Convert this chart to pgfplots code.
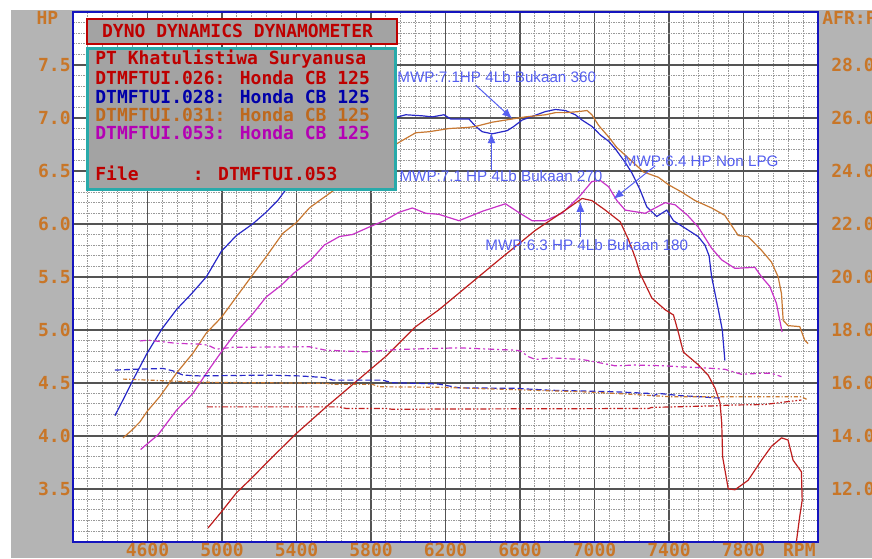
\documentclass[border=0pt]{standalone}
\usepackage{pgfplots}
\pgfplotsset{compat=1.18}
\usepackage{fontspec}
\setmainfont{Liberation Sans}
\newfontfamily\dosfont{DejaVu Sans Mono}
\usetikzlibrary{arrows.meta}
\definecolor{bgray}{RGB}{180,180,180}
\definecolor{boxgray}{RGB}{163,163,163}
\definecolor{lblor}{RGB}{200,118,40}
\definecolor{cblue}{RGB}{40,40,200}
\definecolor{corange}{RGB}{200,120,50}
\definecolor{cmag}{RGB}{200,50,200}
\definecolor{cred}{RGB}{190,30,30}
\definecolor{tred}{RGB}{190,0,0}
\definecolor{tblue}{RGB}{0,0,170}
\definecolor{torange}{RGB}{190,105,30}
\definecolor{tmag}{RGB}{180,0,180}
\definecolor{ann}{RGB}{85,95,240}
\definecolor{tealb}{RGB}{40,170,170}
\definecolor{framec}{RGB}{20,20,190}
\newcommand{\dos}{\dosfont\bfseries\fontsize{9}{10}\selectfont}
\begin{document}
\begin{tikzpicture}
\useasboundingbox (0,0) rectangle (436pt,279pt);
\fill[white] (0,0) rectangle (436pt,279pt);
\fill[bgray] (5.5pt,0) rectangle (436pt,274pt);
\begin{axis}[
  at={(36.5pt,8.15pt)}, anchor=south west, scale only axis,
  width=372.5pt, height=264.85pt,
  xmin=4200, xmax=8200, ymin=3, ymax=8,
  axis background/.style={fill=white},
  axis line style={framec, line width=1pt},
  xtick={4200,4600,...,8200},
  xticklabels={,4600,5000,5400,5800,6200,6600,7000,7400,7800,},
  extra x ticks={8100}, extra x tick labels={RPM},
  extra x tick style={grid=none},
  ytick={3,3.5,...,8},
  yticklabels={,3.5,4.0,4.5,5.0,5.5,6.0,6.5,7.0,7.5,},
  minor x tick num=4, minor y tick num=4,
  major tick length=0pt, minor tick length=0pt,
  grid=both,
  major grid style={black!67, line width=0.8pt},
  minor grid style={black!40, line width=0.5pt, dash pattern=on 0.75pt off 0.5pt},
  tick label style={font=\dos, text=lblor},
  xticklabel style={anchor=north, inner sep=0pt, yshift=-0.6pt},
  yticklabel style={anchor=east, inner sep=0pt, xshift=-1pt},
  clip=true,
]
% DTMFTUI.028 (blue)
\addplot[cblue, line width=0.6pt] coordinates {
(4425,4.19)(4469,4.34)(4523,4.53)(4598,4.78)(4678,5.01)(4755,5.19)(4836,5.34)(4916,5.50)(4996,5.74)(5077,5.89)(5165,6.00)(5237,6.11)(5299,6.22)(5362,6.37)(5450,6.55)(5600,6.80)(5750,6.95)(5888,6.985)(5987,7.03)(6076,7.02)(6129,7.01)(6192,7.03)(6228,6.99)(6326,6.99)(6362,6.92)(6397,6.87)(6451,6.85)(6531,6.88)(6567,6.92)(6611,6.98)(6674,7.02)(6736,7.06)(6790,7.08)(6844,7.07)(6897,7.03)(6933,6.98)(6986,6.92)(7031,6.84)(7076,6.78)(7111,6.71)(7165,6.58)(7201,6.48)(7245,6.32)(7281,6.16)(7334,6.07)(7388,6.13)(7424,6.03)(7504,5.94)(7557,5.88)(7593,5.80)(7615,5.70)(7629,5.50)(7665,5.19)(7686,5.00)(7700,4.71)};
% DTMFTUI.031 (orange)
\addplot[corange, line width=0.6pt] coordinates {
(4469,3.98)(4514,4.05)(4559,4.13)(4598,4.23)(4666,4.37)(4755,4.59)(4844,4.78)(4916,4.97)(4998,5.12)(5077,5.31)(5165,5.52)(5237,5.69)(5326,5.91)(5398,6.01)(5469,6.15)(5523,6.22)(5603,6.32)(5700,6.45)(5800,6.60)(5888,6.70)(5951,6.77)(6040,6.86)(6112,6.87)(6219,6.90)(6317,6.91)(6362,6.92)(6451,6.96)(6558,6.99)(6629,7.01)(6683,7.02)(6737,7.03)(6790,7.05)(6844,7.05)(6915,7.06)(6960,7.07)(6986,7.03)(7022,6.93)(7076,6.82)(7120,6.72)(7183,6.62)(7263,6.49)(7343,6.44)(7397,6.37)(7468,6.30)(7540,6.22)(7629,6.15)(7700,6.08)(7772,5.89)(7825,5.88)(7897,5.75)(7950,5.64)(7986,5.50)(8004,5.34)(8013,5.09)(8039,5.04)(8102,5.03)(8129,4.90)(8147,4.87)};
% DTMFTUI.053 (magenta)
\addplot[cmag, line width=0.6pt] coordinates {
(4563,3.87)(4657,4.01)(4755,4.24)(4844,4.40)(4916,4.59)(4996,4.79)(5077,4.98)(5165,5.15)(5237,5.31)(5318,5.42)(5389,5.54)(5478,5.66)(5549,5.80)(5630,5.88)(5701,5.90)(5790,5.97)(5871,6.03)(5951,6.11)(6022,6.15)(6094,6.10)(6165,6.09)(6272,6.03)(6400,6.12)(6522,6.19)(6600,6.10)(6665,6.03)(6736,6.03)(6825,6.10)(6915,6.25)(6986,6.40)(7031,6.41)(7076,6.35)(7120,6.22)(7165,6.13)(7272,6.10)(7379,6.20)(7433,6.18)(7500,6.08)(7557,5.97)(7629,5.77)(7683,5.66)(7754,5.58)(7861,5.59)(7897,5.50)(7941,5.41)(7977,5.25)(8007,4.98)};
% DTMFTUI.026 (red)
\addplot[cred, line width=0.6pt] coordinates {
(4925,3.13)(4996,3.28)(5077,3.46)(5165,3.61)(5237,3.74)(5398,4.02)(5558,4.27)(5719,4.51)(5880,4.75)(6040,5.03)(6165,5.19)(6487,5.66)(6683,5.94)(6844,6.13)(6933,6.24)(6986,6.22)(7058,6.13)(7138,6.02)(7183,5.85)(7219,5.68)(7245,5.53)(7308,5.30)(7379,5.19)(7424,5.14)(7451,4.97)(7477,4.79)(7557,4.67)(7611,4.57)(7647,4.45)(7674,4.31)(7683,4.12)(7688,3.80)(7718,3.50)(7754,3.49)(7825,3.58)(7897,3.77)(7950,3.90)(8004,3.98)(8039,3.96)(8066,3.77)(8111,3.66)(8115,3.39)(8102,3.24)(8084,3.0)};
% annotations
\begin{scope}[every node/.style={font=\fontsize{7.6}{8}\selectfont, text=ann, inner sep=0pt, anchor=west}]
\node at (axis cs:5940,7.384) {MWP:7.1HP 4Lb Bukaan 360};
\node at (axis cs:5951,6.45) {MWP:7.1 HP 4Lb Bukaan 270};
\node at (axis cs:7156,6.59) {MWP:6.4 HP Non LPG};
\node at (axis cs:6412,5.804) {MWP:6.3 HP 4Lb Bukaan 180};
\end{scope}
\begin{scope}[ann, line width=0.5pt, -{Latex[length=5pt,width=4pt]}]
\draw (axis cs:6363,7.308) -- (axis cs:6558,6.994);
\draw (axis cs:6447,6.507) -- (axis cs:6447,6.856);
\draw (axis cs:7326,6.548) -- (axis cs:7102,6.235);
\draw (axis cs:6924,5.877) -- (axis cs:6924,6.208);
\end{scope}
\end{axis}
\begin{axis}[
  at={(36.5pt,8.15pt)}, anchor=south west, scale only axis,
  width=372.5pt, height=264.85pt,
  xmin=4200, xmax=8200, ymin=10, ymax=30,
  axis x line=none, axis y line*=right,
  y axis line style={draw=none},
  ytick={12,14,...,28},
  yticklabels={12.0,14.0,16.0,18.0,20.0,22.0,24.0,26.0,28.0},
  major tick length=0pt,
  tick label style={font=\dos, text=lblor},
  yticklabel style={anchor=west, inner sep=0pt, xshift=6.5pt},
]
\addplot[cmag, line width=0.6pt, dash pattern=on 3pt off 1.5pt on 1pt off 1.5pt] coordinates {
(4559,17.58)(4603,17.61)(4755,17.49)(4880,17.46)(4925,17.42)(4969,17.27)(5058,17.34)(5469,17.36)(5558,17.23)(5773,17.17)(5951,17.26)(6165,17.30)(6272,17.32)(6576,17.23)(6603,17.20)(6647,16.98)(6683,16.88)(6772,16.94)(6933,16.88)(7004,16.79)(7111,16.64)(7219,16.67)(7379,16.64)(7468,16.60)(7575,16.57)(7700,16.51)(7790,16.32)(7897,16.36)(7950,16.36)(8004,16.23)};
\addplot[cblue, line width=0.6pt, dash pattern=on 3pt off 1.5pt] coordinates {
(4425,16.48)(4523,16.51)(4684,16.54)(4737,16.45)(4791,16.29)(4880,16.26)(5237,16.29)(5415,16.26)(5549,16.20)(5594,16.10)(5862,16.10)(5915,16.00)(6058,15.98)(6165,15.95)(6272,15.81)(6576,15.79)(6754,15.72)(6933,15.69)(7111,15.66)(7290,15.60)(7317,15.51)(7343,15.60)(7468,15.51)(7575,15.47)(7647,15.43)(7691,15.43)};
\addplot[corange, line width=0.6pt, dash pattern=on 2pt off 1pt on 0.6pt off 1pt] coordinates {
(4469,16.14)(4612,16.10)(4880,16.02)(5237,16.00)(5558,15.98)(5594,15.94)(5808,15.94)(5844,15.85)(6165,15.83)(6665,15.72)(6933,15.66)(7111,15.60)(7415,15.47)(7736,15.47)(8111,15.47)(8147,15.35)};
\addplot[cred, line width=0.6pt, dash pattern=on 3pt off 1pt on 0.8pt off 1pt on 0.8pt off 1pt] coordinates {
(4919,15.09)(5630,15.09)(5666,15.03)(5880,15.03)(5915,15.00)(6219,15.01)(7290,15.03)(7308,15.07)(7647,15.13)(7736,15.16)(7915,15.18)(8004,15.26)(8111,15.35)};
\end{axis}
% axis-side labels
\node[font=\dos, text=lblor, inner sep=0pt] at (23.75pt,270pt) {HP};
\node[font=\dos, text=lblor, inner sep=0pt, anchor=west] at (411pt,270pt) {AFR:P};
% legend boxes
\draw[tred, line width=1pt, fill=boxgray] (43.65pt,256.85pt) rectangle (198.35pt,269.35pt);
\node[font=\dos, text=tred, inner sep=0pt, anchor=base west] at (50.85pt,260.15pt) {DYNO DYNAMICS DYNAMOMETER};
\draw[tealb, line width=1.5pt, fill=boxgray] (43.75pt,184.4pt) rectangle (197.6pt,254.9pt);
\begin{scope}[every node/.style={font=\dos, inner sep=0pt, anchor=base west}]
\node[text=tred] at (47.5pt,246.85pt) {PT Khatulistiwa Suryanusa};
\node[text=tred] at (47.5pt,236.5pt) {DTMFTUI.026: Honda CB 125};
\node[text=tblue] at (47.5pt,227.35pt) {DTMFTUI.028: Honda CB 125};
\node[text=torange] at (47.5pt,218.15pt) {DTMFTUI.031: Honda CB 125};
\node[text=tmag] at (47.5pt,209pt) {DTMFTUI.053: Honda CB 125};
\node[text=tred] at (47.5pt,189pt) {File\ \ \ \ \ : DTMFTUI.053};
\end{scope}
\end{tikzpicture}
\end{document}
